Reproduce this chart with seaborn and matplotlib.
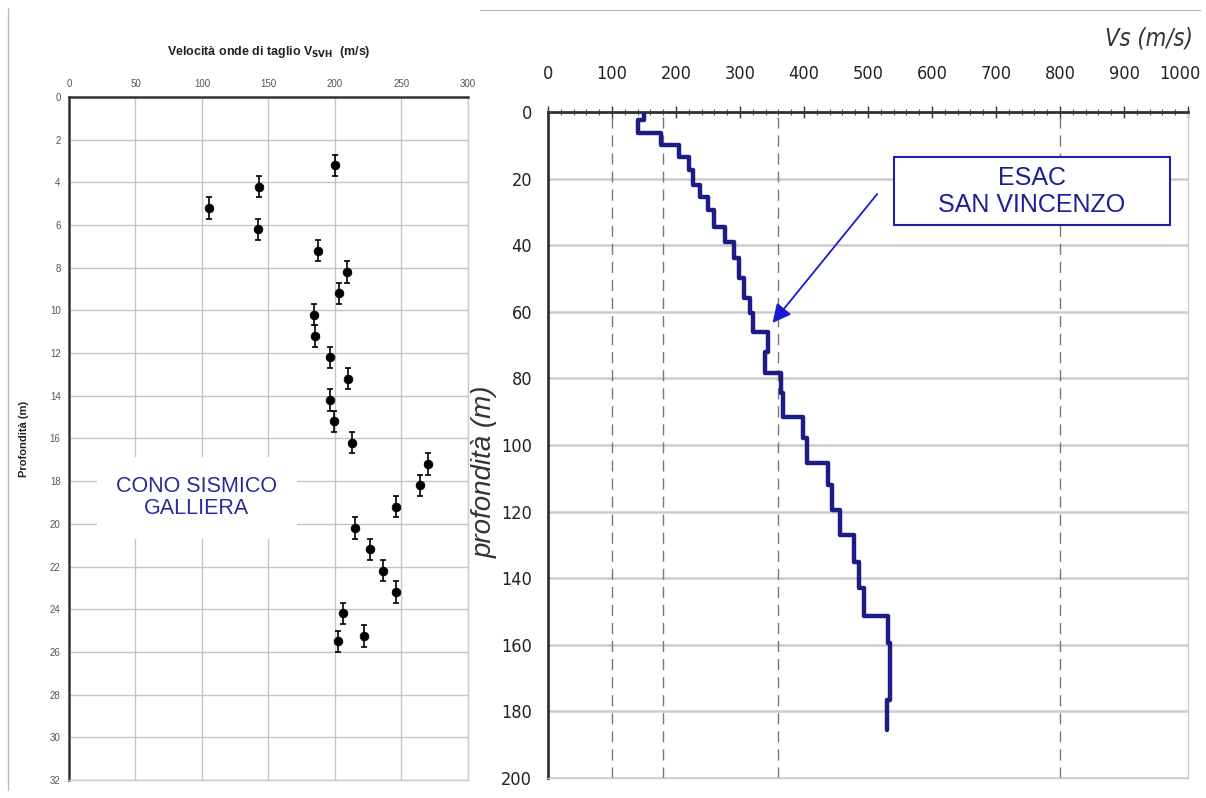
import matplotlib
matplotlib.use("Agg")
import matplotlib.pyplot as plt
import matplotlib.transforms as mtransforms
from matplotlib.ticker import MultipleLocator
from matplotlib.patches import Rectangle
import seaborn as sns
import pandas as pd

# Cono sismico Galliera: depth (m) and shear-wave velocity (m/s)
cone_depth = [3.2, 4.2, 5.2, 6.2, 7.2, 8.2, 9.2, 10.2, 11.2, 12.2, 13.2, 14.2, 15.2,
              16.2, 17.2, 18.2, 19.2, 20.2, 21.2, 22.2, 23.2, 24.2, 25.25, 25.5]
cone_vs = [200, 143, 105, 142, 187, 209, 203, 184, 185, 196, 210, 196, 199,
           213, 270, 264, 246, 215, 226, 236, 246, 206, 222, 202]
cone_err = 0.5

# ESAC San Vincenzo: layer top depths (m) and Vs (m/s)
esac_depth = [0, 2.4, 6.3, 9.9, 13.5, 17.4, 22, 25.5, 29.4, 34.5, 39, 44, 50, 56, 60.4,
              66, 72, 78.5, 84.5, 91.6, 98, 105.5, 112, 119.5, 127, 135, 143, 151.3,
              159.5, 176.5, 185.6]
esac_vs = [150, 140, 176, 205, 221, 226, 237, 250, 260, 276, 291, 299, 307, 315, 320,
           343, 339, 364, 367, 399, 405, 438, 444, 457, 478, 486, 494, 531,
           534, 529, 529]

ref_vs = [100, 180, 360, 800]
vs_ticks = list(range(0, 1001, 100))
depth_ticks = list(range(0, 201, 20))

sns.set_theme(style="white")
plt.rcParams['font.family'] = ['Liberation Sans', 'DejaVu Sans']
narrow = ['Liberation Sans Narrow', 'DejaVu Sans']

fig = plt.figure(figsize=(12.06, 7.98), dpi=100)

# ---------------- left panel ----------------
ax1 = fig.add_axes([0.0572, 0.0226, 0.3308, 0.8559])
df_cone = pd.DataFrame({'vs': cone_vs, 'depth': cone_depth})
ax1.errorbar(df_cone['vs'], df_cone['depth'], yerr=cone_err, fmt='none',
             ecolor='black', elinewidth=1.2, capsize=2.5, capthick=1.2, zorder=3)
sns.scatterplot(data=df_cone, x='vs', y='depth', ax=ax1, color='black', s=40,
                edgecolor='black', zorder=4)
ax1.set_xlim(0, 300)
ax1.set_ylim(32, 0)
ax1.xaxis.set_major_locator(MultipleLocator(50))
ax1.yaxis.set_major_locator(MultipleLocator(2))
ax1.xaxis.tick_top()
ax1.grid(True, color='#c4c4c4', lw=1)
ax1.tick_params(axis='both', labelsize=7, colors='#555555', length=0, pad=6)
for s in ['left', 'top']:
    ax1.spines[s].set_color('#333333')
    ax1.spines[s].set_linewidth(1.8)
for s in ['right', 'bottom']:
    ax1.spines[s].set_color('#cccccc')
    ax1.spines[s].set_linewidth(1)
ax1.set_xlabel('')
ax1.set_ylabel('Profondità (m)', fontsize=8, fontweight='bold', color='#222222')
ax1.yaxis.set_label_coords(-0.1, 0.5)
ax1.set_title(r'Velocità onde di taglio V$_{\mathbf{SVH}}$  (m/s)', fontsize=9,
              fontweight='bold', color='#222222', pad=30)
ax1.text(0.32, 0.413, 'CONO SISMICO\nGALLIERA', transform=ax1.transAxes,
         ha='center', va='center', fontsize=15.5, color='#2a2a9c', linespacing=1.05,
         bbox=dict(facecolor='white', edgecolor='none', pad=14), zorder=5)

# ---------------- right panel ----------------
ax2 = fig.add_axes([0.4544, 0.0251, 0.5307, 0.8346])
df_esac = pd.DataFrame({'vs': esac_vs, 'depth': esac_depth})
for v in ref_vs:
    ax2.axvline(v, color='#777777', lw=1, ls=(0, (8, 5)), zorder=1)
sns.lineplot(data=df_esac, x='vs', y='depth', ax=ax2, sort=False, estimator=None,
             drawstyle='steps-pre', color='#1c1c86', lw=3.2, zorder=4)
ax2.set_xlim(0, 1000)
ax2.set_ylim(200, 0)
ax2.xaxis.tick_top()
ax2.set_xticks(vs_ticks, [str(t) for t in vs_ticks], fontsize=13,
               fontfamily=narrow, fontstretch='condensed', color='#222222')
ax2.set_yticks(depth_ticks, [str(t) for t in depth_ticks], fontsize=13,
               fontfamily=narrow, fontstretch='condensed', color='#222222')
ax2.xaxis.set_minor_locator(MultipleLocator(20))
ax2.yaxis.set_minor_locator(MultipleLocator(4))
ax2.grid(True, axis='y', color='#cccccc', lw=1.8, zorder=0)
ax2.tick_params(axis='both', which='major', direction='inout', length=9, width=1,
                colors='#333333', pad=16)
ax2.tick_params(axis='both', which='minor', direction='inout', length=5, width=0.8,
                colors='#555555')
ax2.tick_params(axis='y', which='major', pad=7)
for lab in ax2.get_xticklabels() + ax2.get_yticklabels():
    lab.set_color('#222222')
# nudge the last top label so it stays inside the figure
last = ax2.xaxis.get_major_ticks()[-1].label2
last.set_transform(last.get_transform() +
                   mtransforms.ScaledTranslation(-6 / 72, 0, fig.dpi_scale_trans))
for s in ['left', 'top']:
    ax2.spines[s].set_color('#333333')
    ax2.spines[s].set_linewidth(2)
for s in ['right', 'bottom']:
    ax2.spines[s].set_color('#cccccc')
    ax2.spines[s].set_linewidth(1)
ax2.set_xlabel('')
ax2.set_ylabel('profondità (m)', fontsize=20, fontstyle='italic', color='#333333')
ax2.yaxis.set_label_coords(-0.078, 0.46)

ax2.add_patch(Rectangle((0.5406, 0.8303), 0.431, 0.1021, transform=ax2.transAxes,
                        facecolor='white', edgecolor='#2020a0', lw=1.5, zorder=5))
ax2.text(0.756, 0.9005, 'ESAC', transform=ax2.transAxes, ha='center', va='center',
         fontsize=18, color='#1e1e9a', zorder=6)
ax2.text(0.756, 0.861, 'SAN VINCENZO', transform=ax2.transAxes, ha='center',
         va='center', fontsize=18, color='#1e1e9a', zorder=6)
ax2.annotate('', xy=(348, 64), xytext=(517, 24),
             arrowprops=dict(arrowstyle='-|>', color='#1a1ad0', lw=1.3,
                             mutation_scale=28), zorder=6)

fig.text(0.953, 0.952, 'Vs (m/s)', fontsize=17, fontstyle='italic',
         color='#333333', ha='center', va='center',
         family=narrow, fontstretch='condensed')

# page frame lines
fig.add_artist(plt.Line2D([0.0066, 0.0066], [0.01, 0.99], color='#bbbbbb', lw=1))
fig.add_artist(plt.Line2D([0.398, 0.995], [0.987, 0.987], color='#bbbbbb', lw=1))

plt.savefig('out.png', dpi=100)
plt.close()
